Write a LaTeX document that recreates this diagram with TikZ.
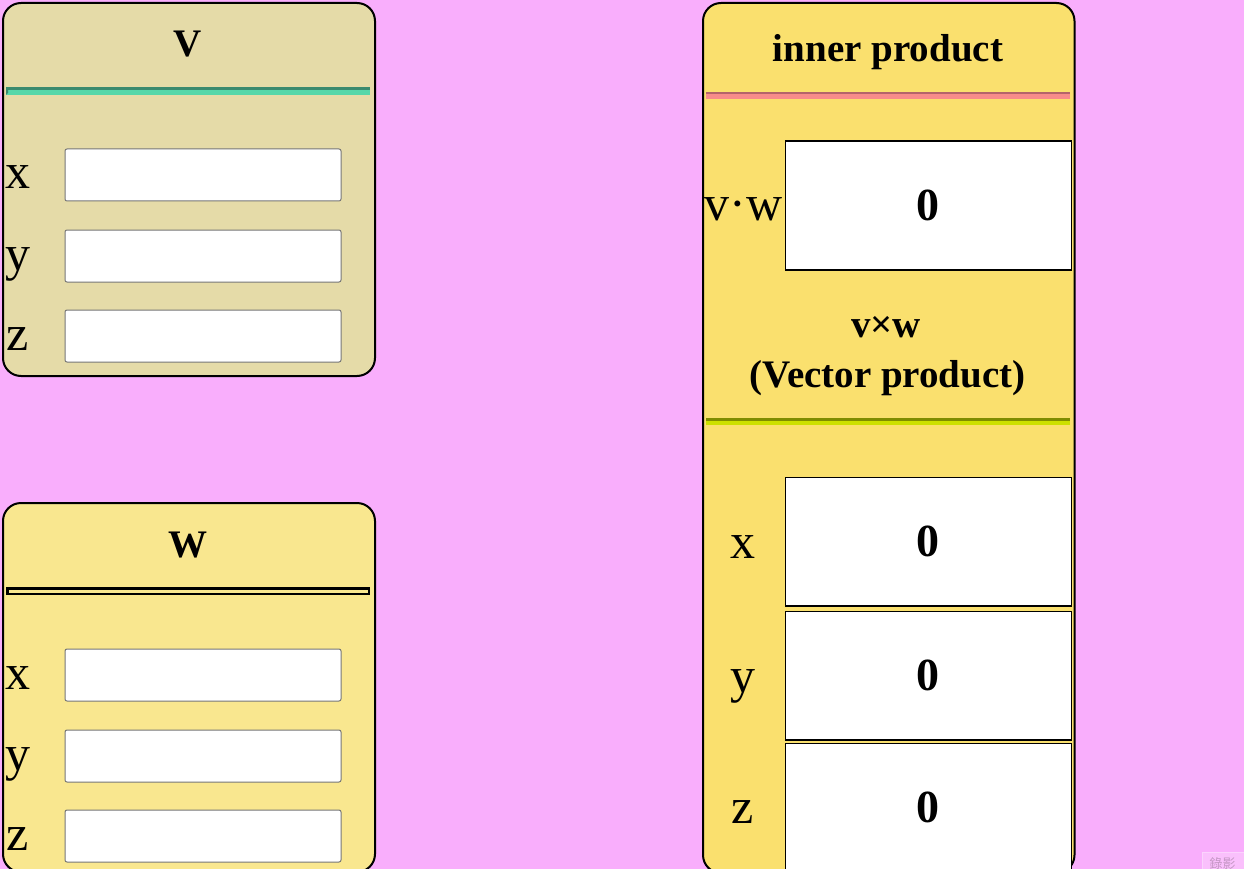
\documentclass[tikz,border=0pt]{standalone}
\usepackage{fontspec}
\setmainfont{Liberation Serif}
\newfontfamily\cjk{Noto Sans CJK TC}

\definecolor{pagepink}{RGB}{249,174,252}
\definecolor{vbeige}{RGB}{229,219,168}
\definecolor{wyellow}{RGB}{249,231,143}
\definecolor{ryellow}{RGB}{250,224,110}
\definecolor{inputgray}{RGB}{118,118,118}
\definecolor{tealdark}{RGB}{58,138,110}
\definecolor{teallight}{RGB}{86,215,169}
\definecolor{coraldark}{RGB}{180,100,106}
\definecolor{corallight}{RGB}{247,140,138}
\definecolor{olivedark}{RGB}{127,140,0}
\definecolor{olivelight}{RGB}{204,224,0}
\definecolor{recpink}{RGB}{250,192,252}
\definecolor{recgray}{RGB}{196,150,196}

\tikzset{
    panel/.style={draw=black, line width=2pt, rounded corners=18pt, anchor=north west, inner sep=0pt},
    heading/.style={anchor=base, font=\fontsize{39}{44}\selectfont\bfseries},
    comp/.style={anchor=base, font=\fontsize{50}{54}\selectfont},
    inbox/.style={draw=inputgray, fill=white, line width=1pt, rounded corners=2pt, minimum width=276pt, minimum height=52pt, anchor=north west, inner sep=0pt},
    outbox/.style={draw=black, fill=white, line width=1.5pt, minimum width=286pt, minimum height=128.5pt, anchor=north west, inner sep=0pt, font=\fontsize{46}{50}\selectfont\bfseries}
}

\begin{document}
\begin{tikzpicture}[x=1pt, y=-1pt]
        \useasboundingbox (0,0) rectangle (1244,869);
        \clip (0,0) rectangle (1244,869);
        \fill [pagepink] (0,0) rectangle (1244,869);

        \node (vpanel) [panel, fill=vbeige, minimum width=372pt, minimum height=373pt] at (2,2) {};
        \node (vtitle) [heading] at (188,57) {V};
        \fill [teallight] (6,87) rectangle (370,95);
        \fill [tealdark] (6,87) rectangle (370,90.5);
        \fill [tealdark] (6,87) -- (8,89) -- (8,93) -- (6,95) -- cycle;
        \node (vx) [comp] at (18,189) {x};
        \node (vxin) [inbox] at (64.5,148.5) {};
        \node (vy) [comp] at (18,270) {y};
        \node (vyin) [inbox] at (64.5,229.5) {};
        \node (vz) [comp] at (18,350) {z};
        \node (vzin) [inbox] at (64.5,309.5) {};

        \node (wpanel) [panel, fill=wyellow, minimum width=372pt, minimum height=369pt] at (2,502) {};
        \node (wtitle) [heading] at (188,557) {W};
        \draw [black, line width=2.5pt] (7.25,588.5) rectangle (368.75,593.8);
        \node (wx) [comp] at (18,689) {x};
        \node (wxin) [inbox] at (64.5,648.5) {};
        \node (wy) [comp] at (18,770) {y};
        \node (wyin) [inbox] at (64.5,729.5) {};
        \node (wz) [comp] at (18,850) {z};
        \node (wzin) [inbox] at (64.5,809.5) {};

        \node (rpanel) [panel, fill=ryellow, minimum width=371.5pt, minimum height=870pt] at (702,2) {};
        \node (inner) [heading] at (888,62) {inner product};
        \fill [corallight] (706,92) rectangle (1070,99);
        \fill [coraldark] (706,92) rectangle (1070,94.5);
        \node (dot) [comp] at (743.5,220) {v·w};
        \node (dotout) [outbox] at (784.5,140.5) {0};
        \node (cross) [heading] at (886,337) {v×w};
        \node (crossname) [heading] at (887.5,387) {(Vector product)};
        \fill [olivelight] (706,417.5) rectangle (1070,425);
        \fill [olivedark] (706,417.5) rectangle (1070,420.5);
        \node (cx) [comp] at (743,558) {x};
        \node (cxout) [outbox] at (784.5,476.5) {0};
        \node (cy) [comp] at (743,692) {y};
        \node (cyout) [outbox] at (784.5,610.5) {0};
        \node (cz) [comp] at (743,823) {z};
        \node (czout) [outbox] at (784.5,742.5) {0};

        \node (rec) [draw=recpink!70!white, fill=recpink, anchor=north west, inner xsep=8pt, inner ysep=6pt, text=recgray, font=\cjk\fontsize{13}{13}\selectfont] at (1201.5,851.5) {錄影};
    \end{tikzpicture}
\end{document}
